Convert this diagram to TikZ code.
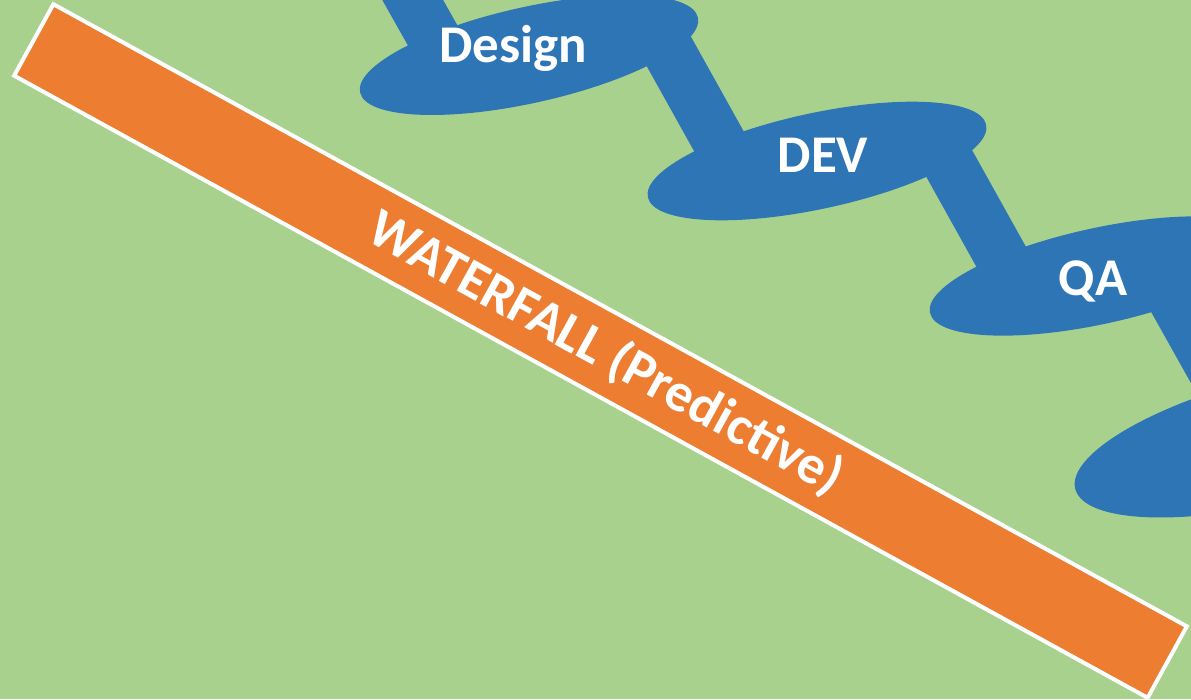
\documentclass[tikz,border=0pt]{standalone}
\usepackage{fontspec}
\setmainfont{Carlito}
\usetikzlibrary{shapes.geometric}
\definecolor{meadow}{HTML}{A9D18E}
\definecolor{flowblue}{HTML}{2E75B6}
\definecolor{predorange}{HTML}{ED7D31}
\begin{document}
\begin{tikzpicture}[x=1pt, y=-1pt,
	stage/.style={ellipse, fill=flowblue, inner sep=0pt, minimum width=346pt, minimum height=96pt},
	bar/.style={draw=flowblue, line width=53pt},
	stagetext/.style={text=white, anchor=base, font=\fontsize{53}{60}\selectfont\bfseries}]
		\useasboundingbox (0,0) rectangle (1191,699);
		\clip (0,0) rectangle (1191,699);
		\fill[meadow] (0,0) rectangle (1191,699);
		
		% Orange band
		\node[draw=white, line width=4pt, fill=predorange, inner sep=0pt, rotate=-28.76,
			minimum width=1293pt, minimum height=81.5pt] (band) at (600.5,351) {};
		\node[stagetext, rotate=-28.76, font=\fontsize{54.5}{60}\selectfont\bfseries] (waterfall) at (598,368) {WATERFALL (Predictive)};
		
		% Stages
		\node[stage, rotate=12.5] (designblob) at (529,55) {};
		\node[stage, rotate=12.1] (devblob) at (817,161) {};
		\node[stage, rotate=12.3] (qablob) at (1099,276) {};
		\node[stage, rotate=14, minimum width=420pt, minimum height=126pt] (lastblob) at (1279,438) {};
		
		% Drops between stages
		\coordinate (d0) at (393,-35);
		\coordinate (d1) at (442,52);
		\coordinate (d2) at (658,32);
		\coordinate (d3) at (731,163);
		\coordinate (d4) at (940,147);
		\coordinate (d5) at (1013,278);
		\coordinate (d6) at (1149,254);
		\coordinate (d7) at (1237,411);
		\foreach \a/\b in {d0/d1,d2/d3,d4/d5,d6/d7}
		\draw[bar] (\a) -- (\b);
		
		% Labels
		\node[stagetext] (design) at (513,62) {Design};
		\node[stagetext] (dev) at (823,172) {DEV};
		\node[stagetext] (qa) at (1093,295) {QA};
	\end{tikzpicture}
\end{document}
